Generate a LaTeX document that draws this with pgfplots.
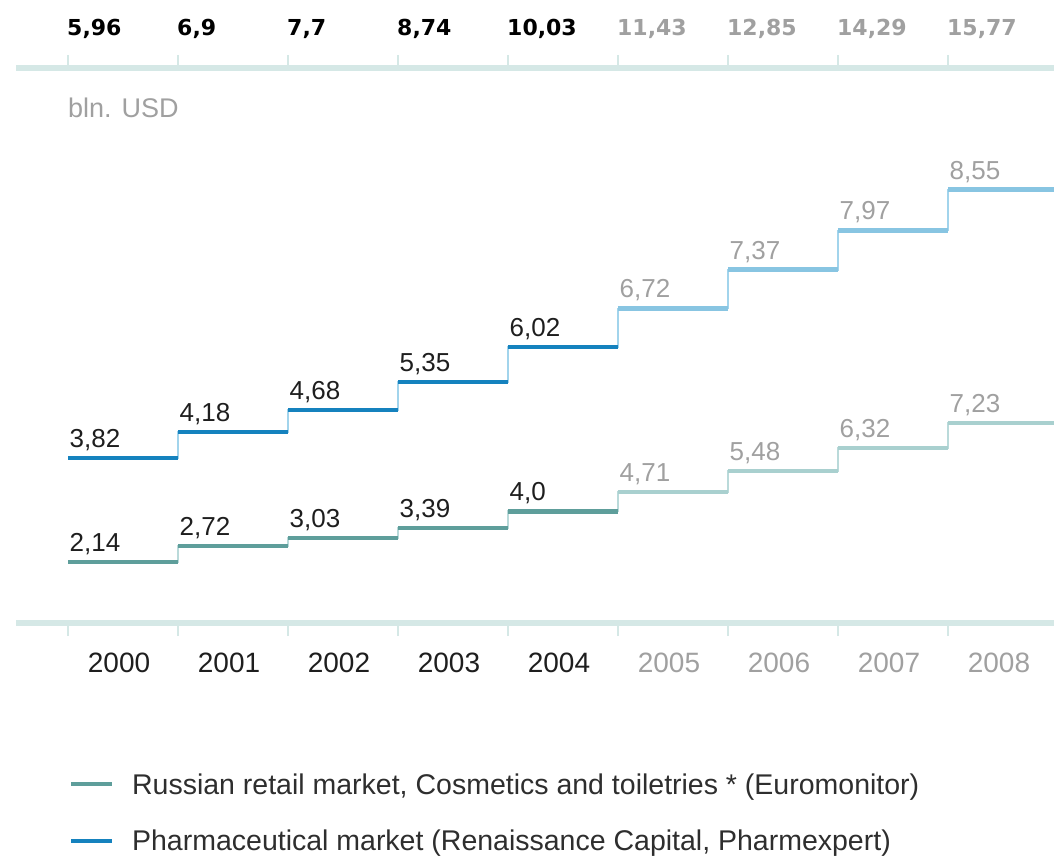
\documentclass[border=0pt]{standalone}
\usepackage{pgfplots}
\pgfplotsset{compat=1.18}
\usepackage{pgfplotstable}
\usepackage{fontspec}
\setmainfont{Liberation Sans}
\newfontfamily\topfont{DejaVu Sans}
\definecolor{cosd}{HTML}{5E9E9B}
\definecolor{cosl}{HTML}{A9D0CF}
\definecolor{phad}{HTML}{1582BE}
\definecolor{phal}{HTML}{88C5E2}
\definecolor{risc}{HTML}{BADADA}
\definecolor{risp}{HTML}{A2D4EC}
\definecolor{axc}{HTML}{D5E8E6}
\definecolor{txtgray}{HTML}{A0A0A0}
\definecolor{txt}{HTML}{1E1E1E}
\definecolor{legtxt}{HTML}{2E2E2E}

\pgfplotstableread{
year cos  pha  cl   pl   tl
2000 2.14 3.82 2,14 3,82 5,96
2001 2.72 4.18 2,72 4,18 6,9
2002 3.03 4.68 3,03 4,68 7,7
2003 3.39 5.35 3,39 5,35 8,74
2004 4.0  6.02 4,0  6,02 10,03
2005 4.71 6.72 4,71 6,72 11,43
2006 5.48 7.37 5,48 7,37 12,85
2007 6.32 7.97 6,32 7,97 14,29
2008 7.23 8.55 7,23 8,55 15,77
2009 7.23 8.55 x    x    x
}\data

\begin{document}
\begin{tikzpicture}
\useasboundingbox (0,0) rectangle (1054pt,857pt);
\begin{axis}[
  at={(16pt,234pt)}, anchor=south west,
  scale only axis, width=1038pt, height=555pt,
  xmin=1999.527, xmax=2008.964, ymin=-0.092, ymax=20.24,
  axis x line=box, axis y line=none,
  x axis line style={axc, line width=5.5pt, -},
  xtick={2000.5,2001.5,2002.5,2003.5,2004.5,2005.5,2006.5,2007.5,2008.5},
  xticklabels={2000,2001,2002,2003,2004,{\textcolor{txtgray}{2005}},{\textcolor{txtgray}{2006}},{\textcolor{txtgray}{2007}},{\textcolor{txtgray}{2008}}},
  minor xtick={2000,2001,2002,2003,2004,2005,2006,2007,2008,2009},
  major tick length=0pt, minor tick length=13pt,
  tick align=outside, xtick pos=both,
  tick style={axc, line width=2pt},
  ytick=\empty,
  clip=false,
  xticklabel style={font=\fontsize{28}{30}\selectfont, text=txt, anchor=base, yshift=-49pt, xshift=-4pt},
  legend image code/.code={\draw[#1, line width=4pt] (0pt,0pt) -- (41pt,0pt); \path[draw=none] (0pt,0pt) -- (59pt,0pt);},
  legend style={draw=none, fill=none, at={(axis description cs:0.051,-0.267)}, anchor=north west,
    font=\fontsize{28.5}{32}\selectfont, text=legtxt, row sep=30pt, inner sep=0pt},
  legend cell align=left,
  every node near coord/.append style={anchor=base west, inner sep=0pt, font=\fontsize{26}{28}\selectfont},
]
\addlegendimage{cosd}
\addlegendentry{Russian retail market, Cosmetics and toiletries * (Euromonitor)}
\addlegendimage{phad}
\addlegendentry{Pharmaceutical market (Renaissance Capital, Pharmexpert)}

% risers
\addplot[const plot mark left, risp, line width=1.8pt] table[x=year, y expr=\thisrow{cos}+\thisrow{pha}] {\data};
\addplot[const plot mark left, risc, line width=1.8pt] table[x=year, y=cos] {\data};
% horizontal segments
\addplot[jump mark left, phad, line width=4.5pt, restrict x to domain=2000:2005] table[x=year, y expr=\thisrow{cos}+\thisrow{pha}] {\data};
\addplot[jump mark left, phal, line width=4.5pt, restrict x to domain=2005:2009] table[x=year, y expr=\thisrow{cos}+\thisrow{pha}] {\data};
\addplot[jump mark left, cosd, line width=4.5pt, restrict x to domain=2000:2005] table[x=year, y=cos] {\data};
\addplot[jump mark left, cosl, line width=4.5pt, restrict x to domain=2005:2009] table[x=year, y=cos] {\data};
% value labels
\addplot[draw=none, restrict x to domain=2000:2004, nodes near coords, point meta=explicit symbolic,
  every node near coord/.append style={text=txt, xshift=1.5pt, yshift=10.5pt}]
  table[x=year, y=cos, meta=cl] {\data};
\addplot[draw=none, restrict x to domain=2005:2008, nodes near coords, point meta=explicit symbolic,
  every node near coord/.append style={text=txtgray, xshift=1.5pt, yshift=10.5pt}]
  table[x=year, y=cos, meta=cl] {\data};
\addplot[draw=none, restrict x to domain=2000:2004, nodes near coords, point meta=explicit symbolic,
  every node near coord/.append style={text=txt, xshift=1.5pt, yshift=10.5pt}]
  table[x=year, y expr=\thisrow{cos}+\thisrow{pha}, meta=pl] {\data};
\addplot[draw=none, restrict x to domain=2005:2008, nodes near coords, point meta=explicit symbolic,
  every node near coord/.append style={text=txtgray, xshift=1.5pt, yshift=10.5pt}]
  table[x=year, y expr=\thisrow{cos}+\thisrow{pha}, meta=pl] {\data};
% totals on top
\addplot[draw=none, restrict x to domain=2000:2004, nodes near coords, point meta=explicit symbolic,
  every node near coord/.append style={text=black, xshift=-1pt, font=\topfont\bfseries\fontsize{22}{24}\selectfont}]
  table[x=year, y expr=21.43, meta=tl] {\data};
\addplot[draw=none, restrict x to domain=2005:2008, nodes near coords, point meta=explicit symbolic,
  every node near coord/.append style={text=txtgray, xshift=-1pt, font=\topfont\bfseries\fontsize{22}{24}\selectfont}]
  table[x=year, y expr=21.43, meta=tl] {\data};

\node[anchor=base west, inner sep=0pt, text=txtgray, font=\fontsize{27}{30}\selectfont] at (axis cs:2000,18.44) {bln. USD};
\end{axis}
\end{tikzpicture}
\end{document}
